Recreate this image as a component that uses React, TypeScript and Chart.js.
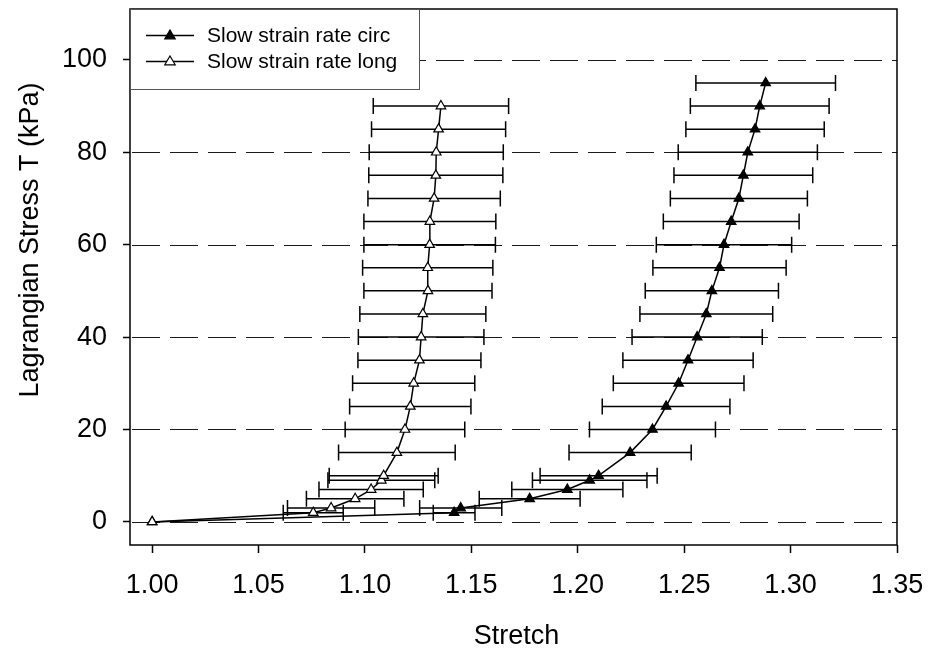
import React, { useEffect, useRef } from "react";
import { Chart, registerables } from "chart.js";

Chart.register(...registerables);

// ---- Data ----
const stressCirc = [0, 2, 3, 5, 7, 9, 10, 15, 20, 25, 30, 35, 40, 45, 50, 55, 60, 65, 70, 75, 80, 85, 90, 95];
const stretchCirc = [1.0, 1.1419, 1.145, 1.1774, 1.1951, 1.2056, 1.2098, 1.2246, 1.2351, 1.2415, 1.2474, 1.2518, 1.2561, 1.2604, 1.263, 1.2666, 1.2687, 1.2721, 1.2757, 1.2778, 1.2799, 1.2833, 1.2855, 1.2883];
const errCirc = [0, 0.0098, 0.0193, 0.0237, 0.0261, 0.0269, 0.0275, 0.0287, 0.0296, 0.03, 0.0307, 0.0306, 0.0306, 0.0312, 0.0313, 0.0313, 0.0318, 0.0319, 0.0322, 0.0326, 0.0327, 0.0325, 0.0326, 0.0328];

const stressLong = [0, 2, 3, 5, 7, 9, 10, 15, 20, 25, 30, 35, 40, 45, 50, 55, 60, 65, 70, 75, 80, 85, 90];
const stretchLong = [1.0, 1.0757, 1.0841, 1.0954, 1.1029, 1.1077, 1.1088, 1.115, 1.1188, 1.1213, 1.1229, 1.1256, 1.1264, 1.1272, 1.1296, 1.1295, 1.1304, 1.1305, 1.1325, 1.1333, 1.1335, 1.1346, 1.1357];
const errLong = [0, 0.0141, 0.0205, 0.0229, 0.0245, 0.0251, 0.0256, 0.0274, 0.0281, 0.0285, 0.0287, 0.0289, 0.0295, 0.0296, 0.0301, 0.0306, 0.0309, 0.031, 0.0311, 0.0315, 0.0315, 0.0315, 0.0318];

const xTicks = [1.0, 1.05, 1.1, 1.15, 1.2, 1.25, 1.3, 1.35];
const yTicks = [0, 20, 40, 60, 80, 100];

const seriesLabels = ["Slow strain rate circ", "Slow strain rate long"];
const xTitle = "Stretch";
const yTitle = "Lagrangian Stress T (kPa)";

const FONT = "Arial, 'Liberation Sans', Helvetica, sans-serif";

const overlayPlugin = {
  id: "overlay",
  beforeDatasetsDraw(chart: any) {
    const { ctx, chartArea: a, scales } = chart;
    const x = scales.x;
    const y = scales.y;
    ctx.save();
    ctx.beginPath();
    ctx.rect(a.left, a.top, a.right - a.left, a.bottom - a.top);
    ctx.clip();
    // dashed horizontal grid lines
    ctx.strokeStyle = "#1a1a1a";
    ctx.lineWidth = 1;
    ctx.setLineDash([28, 10]);
    ctx.lineDashOffset = -2;
    yTicks.forEach((v) => {
      const py = Math.round(y.getPixelForValue(v)) + 0.5;
      ctx.beginPath();
      ctx.moveTo(a.left, py);
      ctx.lineTo(a.right, py);
      ctx.stroke();
    });
    ctx.setLineDash([]);
    // horizontal error bars
    ctx.strokeStyle = "#000";
    ctx.lineWidth = 1.5;
    const drawErr = (xs: number[], ys: number[], es: number[]) => {
      for (let i = 0; i < xs.length; i++) {
        if (!es[i]) continue;
        const l = x.getPixelForValue(xs[i] - es[i]);
        const r = x.getPixelForValue(xs[i] + es[i]);
        const py = y.getPixelForValue(ys[i]);
        ctx.beginPath();
        ctx.moveTo(l, py);
        ctx.lineTo(r, py);
        ctx.moveTo(l, py - 8);
        ctx.lineTo(l, py + 8);
        ctx.moveTo(r, py - 8);
        ctx.lineTo(r, py + 8);
        ctx.stroke();
      }
    };
    drawErr(stretchCirc, stressCirc, errCirc);
    drawErr(stretchLong, stressLong, errLong);
    ctx.restore();
  },
  afterDraw(chart: any) {
    const { ctx, chartArea: a } = chart;
    ctx.save();
    // frame
    ctx.strokeStyle = "#000";
    ctx.lineWidth = 1.5;
    ctx.strokeRect(a.left, a.top, a.right - a.left, a.bottom - a.top);

    // legend box
    const lx = a.left;
    const ly = a.top;
    const lw = 289;
    const lh = 80;
    ctx.fillStyle = "#fff";
    ctx.fillRect(lx, ly, lw, lh);
    ctx.strokeStyle = "#555";
    ctx.lineWidth = 1;
    ctx.strokeRect(lx + 0.5, ly + 0.5, lw, lh);
    ctx.strokeStyle = "#000";
    ctx.lineWidth = 1.5;
    ctx.strokeRect(a.left, a.top, 0, 0);
    const rows = [ly + 26.5, ly + 52.5];
    const fills = ["#000", "#fff"];
    rows.forEach((ry, i) => {
      ctx.strokeStyle = "#000";
      ctx.lineWidth = 1.5;
      ctx.beginPath();
      ctx.moveTo(lx + 16, ry);
      ctx.lineTo(lx + 64, ry);
      ctx.stroke();
      // triangle marker
      const cx = lx + 40;
      const r = 5.5;
      ctx.beginPath();
      ctx.moveTo(cx, ry - r);
      ctx.lineTo(cx + r * 0.95, ry + r * 0.6);
      ctx.lineTo(cx - r * 0.95, ry + r * 0.6);
      ctx.closePath();
      ctx.fillStyle = fills[i];
      ctx.fill();
      ctx.lineWidth = 1.2;
      ctx.stroke();
      ctx.fillStyle = "#000";
      ctx.font = `21px ${FONT}`;
      ctx.textAlign = "left";
      ctx.textBaseline = "middle";
      ctx.fillText(seriesLabels[i], lx + 77, ry + 1);
    });

    // axis titles
    ctx.fillStyle = "#000";
    ctx.font = `27px ${FONT}`;
    ctx.textAlign = "center";
    ctx.textBaseline = "middle";
    ctx.fillText(xTitle, (a.left + a.right) / 2 + 3, 637);
    ctx.save();
    ctx.translate(31, 240);
    ctx.rotate(-Math.PI / 2);
    ctx.fillText(yTitle, 0, 0);
    ctx.restore();
    ctx.restore();
  },
};

export default function App() {
  const canvasRef = useRef<HTMLCanvasElement | null>(null);

  useEffect(() => {
    if (!canvasRef.current) return;
    const chart = new Chart(canvasRef.current, {
      type: "scatter",
      data: {
        datasets: [
          {
            label: seriesLabels[0],
            data: stretchCirc.map((v, i) => ({ x: v, y: stressCirc[i] })),
            showLine: true,
            borderColor: "#000",
            borderWidth: 1.5,
            tension: 0,
            pointStyle: "triangle",
            pointRadius: 5.5,
            pointBackgroundColor: "#000",
            pointBorderColor: "#000",
            pointBorderWidth: 1.2,
            order: 1,
          },
          {
            label: seriesLabels[1],
            data: stretchLong.map((v, i) => ({ x: v, y: stressLong[i] })),
            showLine: true,
            borderColor: "#000",
            borderWidth: 1.5,
            tension: 0,
            pointStyle: "triangle",
            pointRadius: 5.5,
            pointBackgroundColor: "#fff",
            pointBorderColor: "#000",
            pointBorderWidth: 1.2,
            order: 0,
          },
        ],
      },
      options: {
        responsive: false,
        animation: false,
        devicePixelRatio: 1,
        layout: { padding: { left: 0, top: 9, right: 31, bottom: 0 } },
        plugins: { legend: { display: false }, tooltip: { enabled: false } },
        scales: {
          x: {
            type: "linear",
            min: 0.9896,
            max: 1.35,
            border: { display: false },
            grid: {
              drawOnChartArea: false,
              drawTicks: true,
              tickLength: 8,
              tickColor: "#000",
              tickWidth: 1.5,
            },
            ticks: {
              color: "#000",
              font: { family: FONT, size: 27 },
              padding: 16,
              callback: (v: any) => Number(v).toFixed(2),
            },
            afterBuildTicks: (s: any) => {
              s.ticks = xTicks.map((v) => ({ value: v }));
            },
            afterFit: (s: any) => {
              s.height = 106;
              s.paddingLeft = 0;
              s.paddingRight = 0;
            },
          },
          y: {
            type: "linear",
            min: -5,
            max: 111,
            border: { display: false },
            grid: {
              drawOnChartArea: false,
              drawTicks: true,
              tickLength: 7,
              tickColor: "#000",
              tickWidth: 1.5,
            },
            ticks: {
              color: "#000",
              font: { family: FONT, size: 27 },
              padding: 16,
            },
            afterBuildTicks: (s: any) => {
              s.ticks = yTicks.map((v) => ({ value: v }));
            },
            afterFit: (s: any) => {
              s.width = 130;
              s.paddingTop = 0;
              s.paddingBottom = 0;
            },
          },
        },
      },
      plugins: [overlayPlugin],
    });
    return () => chart.destroy();
  }, []);

  return (
    <div style={{ position: "absolute", left: 0, top: 0, width: 928, height: 651, background: "#fff" }}>
      <canvas ref={canvasRef} width={928} height={651} style={{ display: "block" }} />
    </div>
  );
}
